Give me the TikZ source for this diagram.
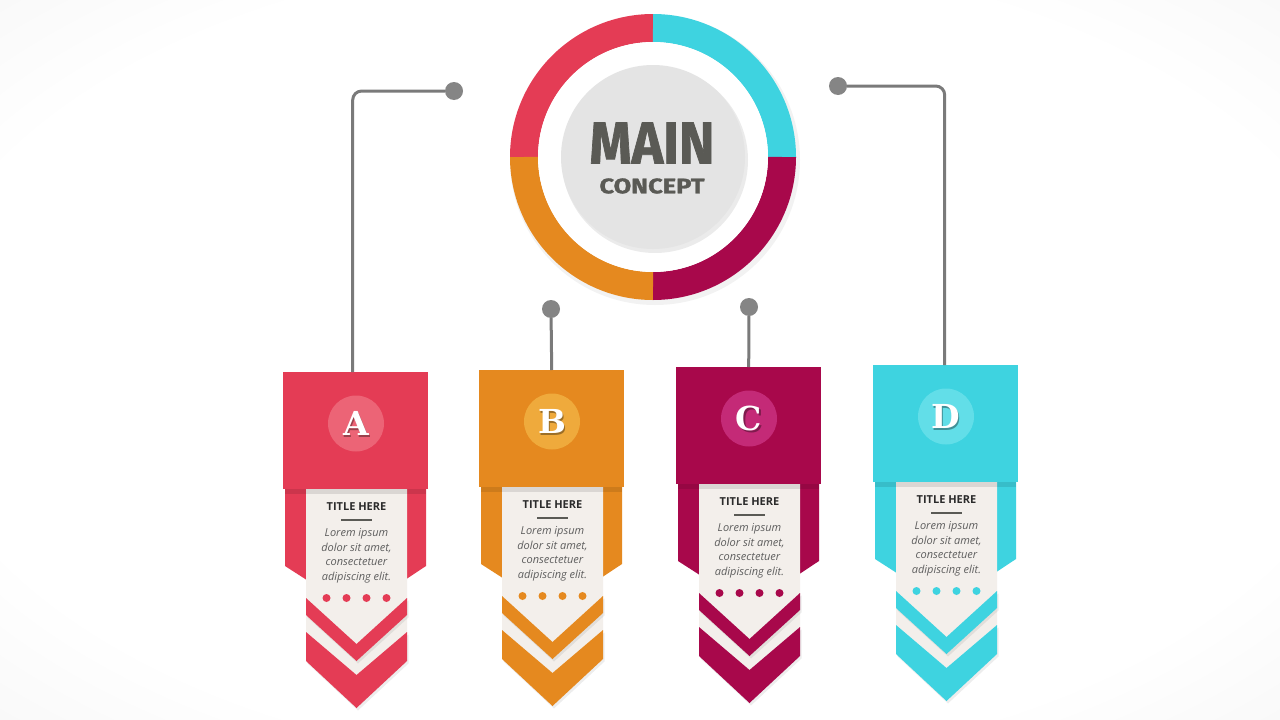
\documentclass[tikz,border=0pt]{standalone}
\usepackage{fontspec}
\usepackage{graphicx}
\setmainfont{Open Sans}
\newfontfamily\headfont{Fira Sans}[BoldFeatures={FakeBold=1.3}]
\newfontfamily\letterfont{DejaVu Serif}
\definecolor{cRed}{HTML}{E43C55}
\definecolor{lRed}{HTML}{EC6476}
\definecolor{cOrange}{HTML}{E5891F}
\definecolor{lOrange}{HTML}{EFAA3C}
\definecolor{cMag}{HTML}{A8084B}
\definecolor{lMag}{HTML}{C42A77}
\definecolor{cCyan}{HTML}{3ED3E0}
\definecolor{lCyan}{HTML}{62DEE8}
\definecolor{cream}{HTML}{F3EFEB}
\definecolor{discgray}{HTML}{E4E4E4}
\definecolor{textgray}{HTML}{5A5A55}
\definecolor{titlecol}{HTML}{2B2B2B}
\definecolor{bodycol}{HTML}{5E5E5E}
\definecolor{conncol}{HTML}{7A7A7A}
\definecolor{dotcol}{HTML}{858585}
\pgfdeclareradialshading{vignette}{\pgfpoint{0bp}{0bp}}{color(0bp)=(white); color(28bp)=(white); color(50bp)=(black!7); color(72bp)=(black!12)}
\tikzset{
  header/.style={rectangle, inner sep=0pt, minimum width=145pt, minimum height=117pt, anchor=north west},
  badge/.style={circle, inner sep=0pt, minimum size=56pt},
  lettertxt/.style={font=\letterfont\bfseries\fontsize{33}{33}\selectfont, text=white},
  titletxt/.style={font=\bfseries\fontsize{11}{13}\selectfont, text=titlecol},
  bodytxt/.style={font=\itshape\fontsize{11}{14.5}\selectfont, text=bodycol, align=center, inner sep=0pt},
  dotnode/.style={circle, fill=dotcol, minimum size=18pt, inner sep=0pt},
  conn/.style={draw=conncol, line width=3pt, rounded corners=9pt},
  shadowfill/.style={fill=black, opacity=0.07}
}
\newcommand\mybanner[6]{%
\begin{scope}[shift={(#1,#2)}]
  \fill[#3] (2,110) -- (143,110) -- (143,194) -- (73.5,240) -- (2,194) -- cycle;
  \fill[cream] (23,117) -- (124,117) -- (124,260) -- (73.5,303) -- (23,260) -- cycle;
  \fill[black, opacity=0.10] (2,117) rectangle (143,122);
  \foreach \dx in {43.5,63.5,83.5,103.5} {\fill[#3] (\dx,226) circle[radius=4];}
  \fill[shadowfill, shift={(1.5,2.5)}] (23,226) -- (73.5,272) -- (124,226) -- (124,243) -- (73.5,289) -- (23,243) -- cycle;
  \fill[#3] (23,226) -- (73.5,272) -- (124,226) -- (124,243) -- (73.5,289) -- (23,243) -- cycle;
  \fill[shadowfill, shift={(1.5,2.5)}] (23,260) -- (73.5,303) -- (124,260) -- (124,289) -- (73.5,336) -- (23,289) -- cycle;
  \fill[#3] (23,260) -- (73.5,303) -- (124,260) -- (124,289) -- (73.5,336) -- (23,289) -- cycle;
  \node[header, fill=#3] (h#6) at (0,0) {};
  \node[badge, fill=#4] (c#6) at (73,51.5) {};
  \node[lettertxt, text=black, opacity=0.35, xshift=1.2pt, yshift=-1.6pt] (s#6) at (c#6.center) {#5};
  \node[lettertxt] (l#6) at (c#6.center) {#5};
  \node[titletxt] (t#6) at (73.5,135) {TITLE HERE};
  \draw[textgray, line width=1.3pt] (58,148) -- (89,148);
  \node[bodytxt] (b#6) at (73.5,184) {Lorem ipsum\\dolor sit amet,\\consectetuer\\adipiscing elit.};
\end{scope}}
\begin{document}
\begin{tikzpicture}[x=1pt, y=-1pt]
\useasboundingbox (0,0) rectangle (1280,720);
\shade[shading=vignette] (0,0) rectangle (1280,720);
% main concept
\coordinate (mc) at (653,157);
\fill[black, opacity=0.05] (655,160) circle[radius=145];
\draw[line width=28pt, cRed] (mc) ++(180:129) arc[start angle=180, end angle=270, radius=129];
\draw[line width=28pt, cCyan] (mc) ++(270:129) arc[start angle=270, end angle=360, radius=129];
\draw[line width=28pt, cMag] (mc) ++(0:129) arc[start angle=0, end angle=90, radius=129];
\draw[line width=28pt, cOrange] (mc) ++(90:129) arc[start angle=90, end angle=180, radius=129];
\fill[white] (mc) circle[radius=115];
\fill[black, opacity=0.08] (655,160) circle[radius=93];
\node[circle, fill=discgray, minimum size=184pt, inner sep=0pt] (main) at (mc) {};
\node[font=\headfont\bfseries, text=textgray, inner sep=0pt] (mainT) at (652,143) {\resizebox{125pt}{41pt}{MAIN}};
\node[font=\headfont\bfseries, text=textgray, inner sep=0pt] (conT) at (652,186) {\resizebox{105pt}{15pt}{CONCEPT}};
% banners
\mybanner{283}{372}{cRed}{lRed}{A}{A}
\mybanner{479}{370}{cOrange}{lOrange}{B}{B}
\mybanner{676}{367}{cMag}{lMag}{C}{C}
\mybanner{873}{365}{cCyan}{lCyan}{D}{D}
% connectors
\node[dotnode] (dA) at (454,91) {};
\node[dotnode] (dB) at (551,309) {};
\node[dotnode] (dC) at (749,307) {};
\node[dotnode] (dD) at (838,86) {};
\draw[conn] (dA) -| ([xshift=-3pt]hA.north);
\draw[conn] (dB) -- (hB.north);
\draw[conn] (dC) -- (hC.north);
\draw[conn] (dD) -| ([xshift=-1pt]hD.north);
\end{tikzpicture}
\end{document}
